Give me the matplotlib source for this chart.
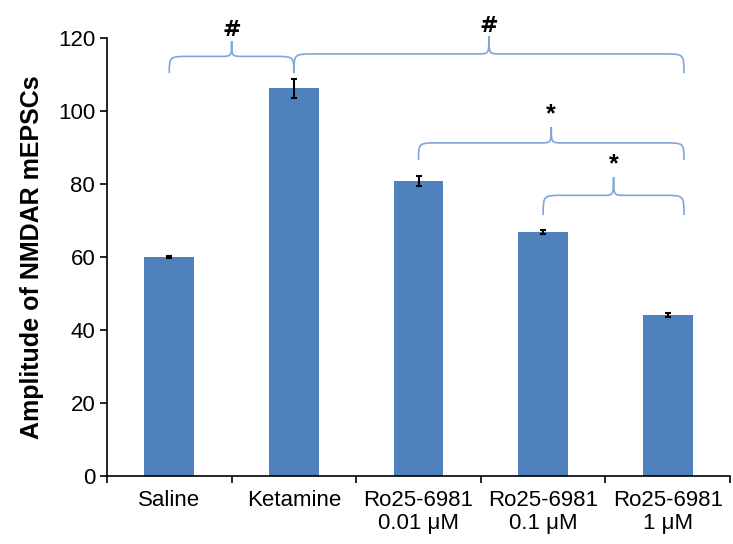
import matplotlib.pyplot as plt
from matplotlib.path import Path
from matplotlib.patches import PathPatch
import numpy as np

plt.rcParams['font.family'] = ['Liberation Sans', 'DejaVu Sans']

groups = ['Saline', 'Ketamine', 'Ro25-6981\n0.01 μM', 'Ro25-6981\n0.1 μM', 'Ro25-6981\n1 μM']
amplitude = [60.0, 106.2, 80.8, 66.8, 44.2]
sem = [0.4, 2.5, 1.3, 0.5, 0.5]

# comparisons: (from, to, label, brace base, brace tip)
comparisons = [(0, 1, '#', 110.4, 119.2), (1, 4, '#', 110.4, 120.5),
               (2, 4, '*', 86.6, 95.6), (3, 4, '*', 71.5, 81.9)]


def brace(ax, x0, x1, yb, yt, label, r=0.16, rm=0.09, color='#7ea6d8'):
    # curly brace pointing up, Excel style
    xm = (x0 + x1) / 2
    yf = yb + (yt - yb) * 0.52
    verts = [(x0, yb), (x0, yf), (x0, yf), (x0 + r, yf),
             (xm - rm, yf),
             (xm, yf), (xm, yf), (xm, yt),
             (xm, yf), (xm, yf), (xm + rm, yf),
             (x1 - r, yf),
             (x1, yf), (x1, yf), (x1, yb)]
    codes = [Path.MOVETO, Path.CURVE4, Path.CURVE4, Path.CURVE4,
             Path.LINETO,
             Path.CURVE4, Path.CURVE4, Path.CURVE4,
             Path.CURVE4, Path.CURVE4, Path.CURVE4,
             Path.LINETO,
             Path.CURVE4, Path.CURVE4, Path.CURVE4]
    ax.add_patch(PathPatch(Path(verts, codes), fill=False, edgecolor=color, lw=1.2, clip_on=False))
    if label == '#':
        ax.text(xm, yt + 0.2, label, ha='center', va='bottom', fontsize=16, fontweight='bold',
                family='DejaVu Sans', clip_on=False)
    else:
        ax.text(xm, yt + 0.2, label, ha='center', va='bottom', fontsize=18, fontweight='bold', clip_on=False)


fig = plt.figure(figsize=(7.33, 5.44), dpi=100)
ax = fig.add_axes([0.146, 0.125, 0.85, 0.805])

x = np.arange(len(groups))
ax.bar(x, amplitude, width=0.4, color='#4f81bd', zorder=2)
ax.errorbar(x, amplitude, yerr=sem, fmt='none', ecolor='black', elinewidth=1.5, capsize=2.5, capthick=1.5, zorder=3)

for i, j, lab, yb, yt in comparisons:
    x1 = j + 0.13 if j == len(groups) - 1 else j
    brace(ax, i, x1, yb, yt, lab)

ax.set_xlim(-0.5, len(groups) - 0.5)
ax.set_ylim(0, 120)
ax.set_yticks(range(0, 121, 20))
ax.set_xticks(x)
ax.set_xticklabels(groups, fontsize=16, linespacing=1.15)
ax.set_xticks(np.arange(-0.5, len(groups), 1.0), minor=True)
ax.tick_params(axis='x', which='major', length=0, pad=10)
ax.tick_params(axis='x', which='minor', length=5, width=1.2)
ax.tick_params(axis='y', labelsize=16, length=5, width=1.2)
ax.spines['top'].set_visible(False)
ax.spines['right'].set_visible(False)
ax.spines['left'].set_linewidth(1.2)
ax.spines['bottom'].set_linewidth(1.2)
ax.set_ylabel('Amplitude of NMDAR mEPSCs', fontsize=18, fontweight='bold', labelpad=10)

fig.savefig('out.png', dpi=100)
